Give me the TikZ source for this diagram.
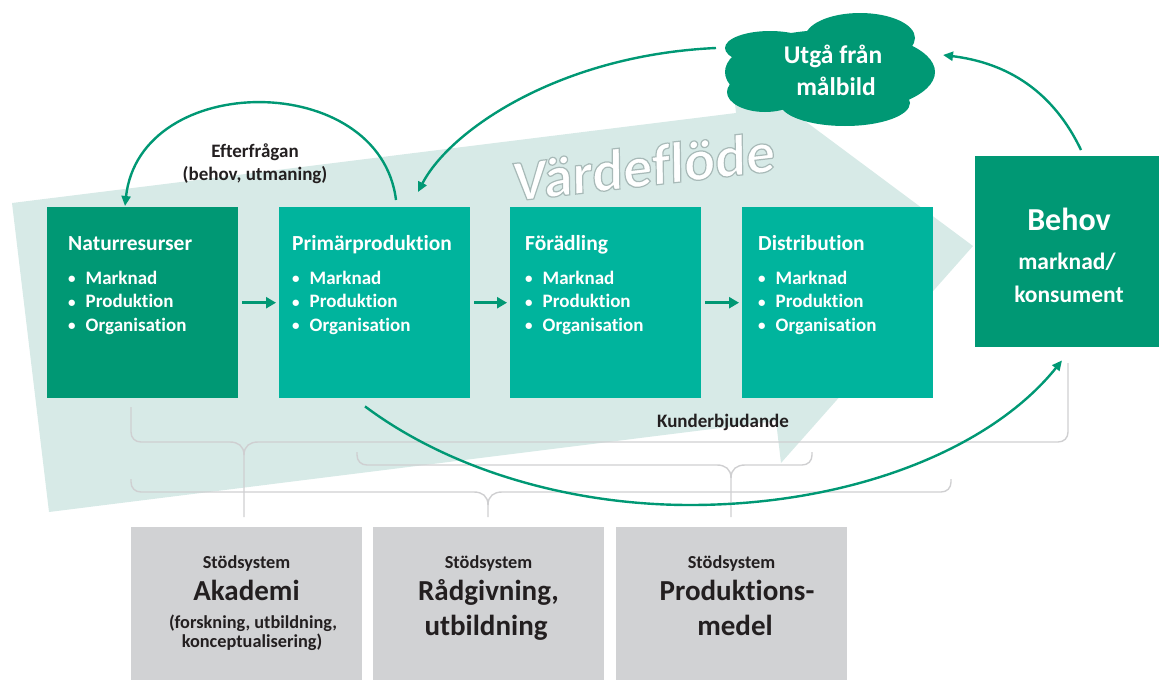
\documentclass[tikz,border=0pt]{standalone}
\usepackage{fontspec}
\setmainfont{Carlito}[Ligatures={NoCommon}]
\usetikzlibrary{arrows.meta}
\definecolor{dkgreen}{HTML}{009874}
\definecolor{tealbox}{HTML}{00B49D}
\definecolor{lightflow}{HTML}{D7EAE7}
\definecolor{greybox}{HTML}{D1D2D4}
\definecolor{brkgrey}{HTML}{CFCFD1}
\definecolor{txtdark}{HTML}{231F20}
\newcommand\fs[1]{\fontsize{#1}{#1}\selectfont}
\newcommand\mybullet{\makebox[17.5pt][l]{\raisebox{0.5pt}{\fs{15}\textbullet}}}
% stage box: #1 name, #2 x, #3 fill, #4 text x, #5 title
\newcommand\stage[5]{%
  \node[stagebox, fill=#3] (#1) at (#2,207) {};
  \node[ttl] (#1-t) at (#4,250) {#5};
  \node[bul] (#1-a) at (#4,284) {\mybullet Marknad};
  \node[bul] (#1-b) at (#4,307.5) {\mybullet Produktion};
  \node[bul] (#1-c) at (#4,331) {\mybullet Organisation};
}
% brace: #1 xl, #2 ytopL, #3 xr, #4 ytopR, #5 yh, #6 xj, #7 ystem
\newcommand\mybrace[7]{%
  \draw[brk] (#1,#2) -- (#1,#5-10) .. controls (#1,#5-4) and (#1+4,#5) .. (#1+10,#5) -- (#6-14,#5) .. controls (#6-6,#5) and (#6,#5+4) .. (#6,#5+13) -- (#6,#7);
  \draw[brk] (#3,#4) -- (#3,#5-10) .. controls (#3,#5-4) and (#3-4,#5) .. (#3-10,#5) -- (#6+14,#5) .. controls (#6+6,#5) and (#6,#5+4) .. (#6,#5+13);
}
\begin{document}
\begin{tikzpicture}[x=1pt,y=-1pt,
  stagebox/.style={rectangle, inner sep=0, minimum width=191, minimum height=191, anchor=north west},
  gbox/.style={rectangle, inner sep=0, fill=greybox, minimum width=231, minimum height=153, anchor=north west},
  ttl/.style={anchor=base west, inner sep=0, text=white, font=\bfseries\fs{21.5}},
  bul/.style={anchor=base west, inner sep=0, text=white, font=\bfseries\fs{19}},
  lbl/.style={anchor=base, inner sep=0, text=txtdark, font=\bfseries\fs{19}},
  gsmall/.style={anchor=base, inner sep=0, text=txtdark, font=\bfseries\fs{18.3}},
  gbig/.style={anchor=base, inner sep=0, text=txtdark, font=\bfseries\fs{29}},
  wtxt/.style={anchor=base, inner sep=0, text=white, font=\bfseries\fs{#1}},
  brk/.style={draw=brkgrey, line width=1.4pt},
  carrow/.style={draw=dkgreen, line width=2.4pt, -{Triangle[length=10pt, width=9pt]}},
  sarrow/.style={draw=dkgreen, line width=3pt, -{Triangle[length=10pt, width=11pt]}},
]
\useasboundingbox (0,0) rectangle (1159,680);

% big value-flow arrow
\fill[lightflow] (12,203) -- (736,113) -- (731,66) -- (973,246) -- (781,463) -- (776,421) -- (49,512) -- cycle;

% Värdeflöde (white, with a soft grey outline standing in for the drop shadow)
\node[font=\bfseries\fs{58}, text=white, rotate=6.6, xslant=0.1, inner sep=0] (vf) at (644,166)
  {\special{pdf:literal direct 0.66 0.73 0.72 RG 1.2 w 2 Tr}Värdeflöde\special{pdf:literal direct 0 Tr}};

% cloud
\fill[dkgreen] (830,72) ellipse [x radius=105, y radius=42];
\fill[dkgreen] (860,38) ellipse [x radius=55, y radius=25];
\fill[dkgreen] (770,48) ellipse [x radius=45, y radius=17];
\fill[dkgreen] (845,103) ellipse [x radius=65, y radius=23];
\fill[dkgreen] (765,92) ellipse [x radius=38, y radius=20];
\node[wtxt=25.5] (cloud1) at (833,63) {Utgå från};
\node[wtxt=25.5] (cloud2) at (836,95) {målbild};
\coordinate (cloudL) at (716,48);
\coordinate (cloudR) at (943,55);

% stages
\stage{nat}{47}{dkgreen}{68}{Naturresurser}
\stage{prim}{279}{tealbox}{292}{Primärproduktion}
\stage{fora}{510}{tealbox}{525}{Förädling}
\stage{dist}{742}{tealbox}{758}{Distribution}

% Behov
\node[rectangle, inner sep=0, fill=dkgreen, minimum width=184, minimum height=191, anchor=north west] (behov) at (975,156) {};
\node[wtxt=32] (behov1) at (1069,230) {Behov};
\node[wtxt=23.5] (behov2) at (1067,269) {marknad/};
\node[wtxt=23.5] (behov3) at (1069,302) {konsument};

% short arrows
\draw[sarrow] ([xshift=4pt]nat.east) -- ([xshift=-3pt]prim.west);
\draw[sarrow] ([xshift=4pt]prim.east) -- ([xshift=-3pt]fora.west);
\draw[sarrow] ([xshift=4pt]fora.east) -- ([xshift=-3pt]dist.west);

% braces
\mybrace{131}{407}{1068}{363}{442}{244}{517}
\mybrace{357}{452}{812}{452}{465}{731}{517}
\mybrace{131}{479}{951}{479}{492}{488}{517}

% support systems
\node[gbox] (aka) at (131,527) {};
\node[gbox] (rad) at (373,527) {};
\node[gbox] (prod) at (616,527) {};
\node[gsmall] (aka1) at (246.5,568) {Stödsystem};
\node[gbig] (aka2) at (246.5,600) {Akademi};
\node[gsmall] (aka3) at (253,628) {(forskning, utbildning,};
\node[gsmall] (aka4) at (252,647) {konceptualisering)};
\node[gsmall] (rad1) at (488.5,568) {Stödsystem};
\node[gbig] (rad2) at (488.5,600) {Rådgivning,};
\node[gbig] (rad3) at (486,635) {utbildning};
\node[gsmall] (prod1) at (731.5,568) {Stödsystem};
\node[gbig] (prod2) at (737,600) {Produktions-};
\node[gbig] (prod3) at (735,635) {medel};

% curved arrows
\draw[carrow] ([shift={(117,-7)}]prim.north west) .. controls (380,70) and (140,70) .. ([shift={(78,-1)}]nat.north west);
\draw[carrow] (cloudL) .. controls (560,55) and (450,130) .. ([shift={(139,-15)}]prim.north west);
\draw[carrow] ([shift={(106,-6)}]behov.north west) .. controls (1050,85) and (1000,62) .. (cloudR);
\draw[carrow] ([shift={(86,8)}]prim.south west) .. controls (450,470) and (570,505) .. (690,505) .. controls (850,505) and (990,450) .. ([shift={(87,13)}]behov.south west);

% labels
\node[lbl] (eft1) at (255,157) {Efterfrågan};
\node[lbl] (eft2) at (255,180) {(behov, utmaning)};
\node[lbl] (kund) at (723,427) {Kunderbjudande};
\end{tikzpicture}
\end{document}
